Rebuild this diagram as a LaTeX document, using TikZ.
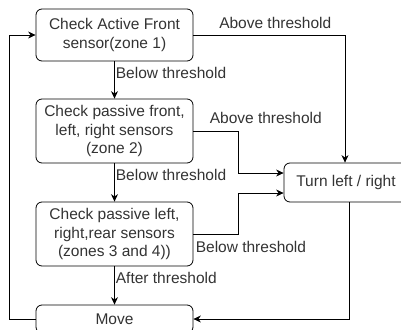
\documentclass[tikz,border=0pt]{standalone}
\usepackage{fontspec}
\setmainfont{Liberation Sans}
\usepackage{xcolor}
\usetikzlibrary{arrows.meta,positioning}
\definecolor{txt}{HTML}{333333}

\begin{document}
\begin{tikzpicture}[x=1pt,y=-1pt,>={Stealth[length=7.5pt,width=7pt]},line width=0.8pt,s/.style={draw,rounded corners=6pt,minimum width=157pt,align=center,text=txt,font=\fontsize{15.5}{18.3}\selectfont},l/.style={inner sep=1pt,text=txt,font=\fontsize{15.5}{18}\selectfont}]
 \useasboundingbox (0,0) rectangle (401,329);
 \node[s,minimum height=52pt] (a) at (114.5,35) {Check Active Front\\sensor(zone 1)};
 \node[s,minimum height=64pt] (b) at (114.5,131) {Check passive front,\\left, right sensors\\(zone 2)};
 \node[s,minimum height=64pt] (c) at (114.5,234) {Check passive left,\\right,rear sensors\\(zones 3 and 4))};
 \node[s,minimum height=28pt] (d) at (114.5,319) {Move};
 \node[s,minimum width=124pt,minimum height=39pt] (e) at (346,182.5) {Turn left / right};
 \draw[->] (a) -- node[l,right,pos=0.3] {Below threshold} (b);
 \draw[->] (b) -- node[l,right,pos=0.3] {Below threshold} (c);
 \draw[->] (c) -- node[l,right,pos=0.3] {After threshold} (d);
 \draw[->] (a.east) -| node[l,above,pos=0.27,yshift=5pt] {Above threshold} ([xshift=-1pt]e.north);
 \draw[->] (b.east) node[l,anchor=south west,xshift=15pt,yshift=6pt] {Above threshold} -- ++(45,0) |- ([yshift=9.5pt]e.west);
 \draw[->] (c.east) node[l,anchor=north west,xshift=1pt,yshift=-6pt] {Below threshold} -- ++(45,0) |- ([yshift=-10.5pt]e.west);
 \draw[->] ([xshift=3pt]e.south) |- (d.east);
 \draw[->] (d.west) -- ++(-26,0) |- (a.west);
\end{tikzpicture}
\end{document}
